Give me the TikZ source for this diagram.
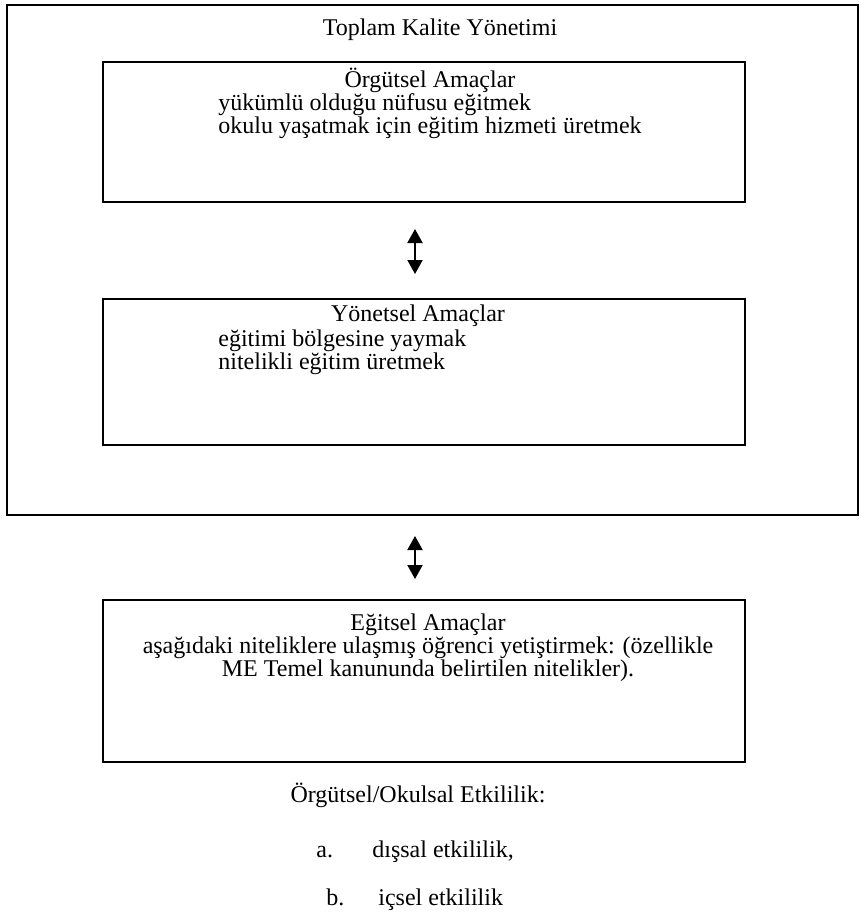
\documentclass[tikz,border=0pt]{standalone}
\usepackage{fontspec}
\setmainfont{Liberation Serif}
\usetikzlibrary{arrows.meta,positioning}

\begin{document}
\begin{tikzpicture}[x=0.5pt, y=-0.5pt,
  every node/.style={font=\fontsize{12}{11.5}\selectfont, inner sep=0pt},
  goalbox/.style={rectangle, draw, line width=1pt, minimum width=321pt},
  frame/.style={rectangle, draw, line width=1pt, minimum width=425.5pt},
  linkarrow/.style={{Triangle[width=7.5pt,length=7pt]}-{Triangle[width=7.5pt,length=7pt]}, line width=1pt},
  itemtext/.style={align=left, anchor=north west},
]
\useasboundingbox (0,0) rectangle (861,916);

% outer frame
\node[frame, minimum height=255pt] (tky) at (432.5,260) {};
\node (tkyT) at (440,30) {Toplam Kalite Yönetimi};

% Orgutsel amaclar
\node[goalbox, minimum height=70pt] (org) at (424,132) {};
\node (orgT) at (430,80) {Örgütsel Amaçlar};
\node[itemtext] (orgL) at (218,93) {yükümlü olduğu nüfusu eğitmek\\okulu yaşatmak için eğitim hizmeti üretmek};

% Yonetsel amaclar
\node[goalbox, minimum height=73pt] (yon) at (424,372) {};
\node (yonT) at (418,316) {Yönetsel Amaçlar};
\node[itemtext] (yonL) at (218,329) {eğitimi bölgesine yaymak\\nitelikli eğitim üretmek};

% Egitsel amaclar
\node[goalbox, minimum height=81pt] (egi) at (424,681) {};
\node[align=center] (egiT) at (428,648) {Eğitsel Amaçlar\\aşağıdaki niteliklere ulaşmış öğrenci yetiştirmek: (özellikle\\ME Temel kanununda belirtilen nitelikler).};

% links
\draw[linkarrow, shorten <=13pt, shorten >=12pt] (org.south -| 415,0) -- (yon.north -| 415,0);
\draw[linkarrow, shorten <=10pt, shorten >=10pt] (tky.south -| 415,0) -- (egi.north -| 415,0);

% etkililik
\node (etk) at (418,795) {Örgütsel/Okulsal Etkililik:};
\node[anchor=base west] (ea) at (316,857) {a.};
\node[anchor=base west] (eaT) at (372,857) {dışsal etkililik,};
\node[anchor=base west] (eb) at (326,905) {b.};
\node[anchor=base west] (ebT) at (378,905) {içsel etkililik};

\end{tikzpicture}
\end{document}
